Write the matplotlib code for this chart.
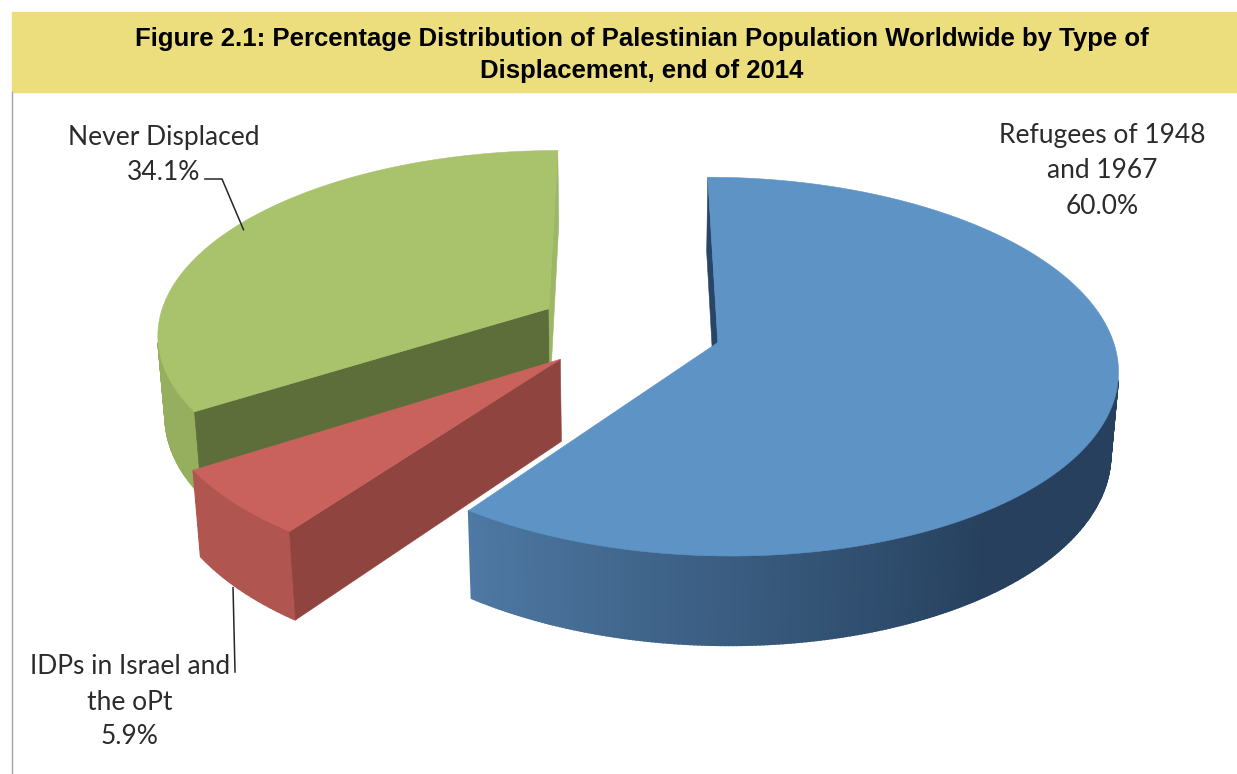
import numpy as np
import matplotlib

matplotlib.use("Agg")
import matplotlib.pyplot as plt
from matplotlib.colors import to_rgb
from matplotlib.patches import Polygon, Rectangle

# slices in drawing order around the pie, clockwise from 12 o'clock
labels = ["Refugees of 1948\nand 1967", "IDPs in Israel and\nthe oPt", "Never Displaced"]
shares = [60.0, 5.9, 34.1]

top_colors = ["#5e93c6", "#c9625d", "#a9c26c"]
side_light = ["#4e79a4", "#b0554f", "#95af5f"]
side_dark = ["#26405d", "#9a4a45", "#7f9850"]
start_face = ["#274566", "#8f4440", "#5e6e3a"]
end_face = ["#3d6a96", "#a04c47", "#9cb766"]

# camera / pie geometry (radius = 1)
ELEV = np.radians(27.8)
DIST = 7.0
FOCAL = 2745
CX, CY = 629, 329
EXPLODE = 0.236
THICK = 0.237


def project(X, Y, Z):
    s, c = np.sin(ELEV), np.cos(ELEV)
    depth = DIST + Y * c - Z * s
    return CX + FOCAL * X / depth, CY - FOCAL * (Y * s + Z * c) / depth


CAM = np.array([0.0, -DIST * np.cos(ELEV), DIST * np.sin(ELEV)])


def facing(normal, point):
    return np.dot(normal, CAM - np.asarray(point)) > 0


def mix(c1, c2, t):
    a, b = np.array(to_rgb(c1)), np.array(to_rgb(c2))
    return tuple(b + (a - b) * t)


def slice_center(a1, a2):
    mid = np.radians((a1 + a2) / 2)
    return EXPLODE * np.sin(mid), EXPLODE * np.cos(mid)


fig = plt.figure(figsize=(12.37, 7.74), dpi=100)
ax = fig.add_axes([0, 0, 1, 1])
ax.set_xlim(0, 1237)
ax.set_ylim(774, 0)
ax.axis("off")

# title banner
ax.add_patch(Rectangle((12, 12), 1225, 80, color="#ecde7c", zorder=1))
ax.text(
    642, 55,
    "Figure 2.1: Percentage Distribution of Palestinian Population Worldwide by Type of\n"
    "Displacement, end of 2014",
    ha="center", va="center", fontsize=18.5, fontweight="bold",
    family="Liberation Sans", linespacing=1.38, color="black", zorder=2,
)
ax.plot([11.5, 11.5], [92, 774], color="#a6a6a6", lw=1, zorder=1)

bounds = np.concatenate([[0], np.cumsum(shares)]) * 3.6
slices = []
for i in range(len(shares)):
    a1, a2 = bounds[i], bounds[i + 1]
    ox, oy = slice_center(a1, a2)
    slices.append((i, a1, a2, ox, oy))

# far slices first
slices.sort(key=lambda s: -s[4])
z = 3
for i, a1, a2, ox, oy in slices:
    # curved outer side
    steps = np.arange(a1, a2, 0.5)
    steps = np.append(steps, a2)
    for t0, t1 in zip(steps[:-1], steps[1:]):
        tm = np.radians((t0 + t1) / 2)
        normal = np.array([np.sin(tm), np.cos(tm), 0])
        p_mid = (ox + np.sin(tm), oy + np.cos(tm), -THICK / 2)
        if not facing(normal, p_mid):
            continue
        r0, r1 = np.radians(t0), np.radians(t1)
        pts = [
            project(ox + np.sin(r0), oy + np.cos(r0), 0),
            project(ox + np.sin(r1), oy + np.cos(r1), 0),
            project(ox + np.sin(r1), oy + np.cos(r1), -THICK),
            project(ox + np.sin(r0), oy + np.cos(r0), -THICK),
        ]
        shade = np.clip(((t0 + t1) / 2 - 144) / 72, 0, 1)
        col = mix(side_light[i], side_dark[i], shade)
        ax.add_patch(Polygon(pts, closed=True, fc=col, ec=col, lw=1.2, zorder=z))
    z += 1

    # flat radial faces
    for ang, normal_ang, col in ((a1, a1 - 90, start_face[i]), (a2, a2 + 90, end_face[i])):
        r = np.radians(ang)
        rn = np.radians(normal_ang)
        normal = np.array([np.sin(rn), np.cos(rn), 0])
        if not facing(normal, (ox, oy, 0)):
            continue
        pts = [
            project(ox, oy, 0),
            project(ox + np.sin(r), oy + np.cos(r), 0),
            project(ox + np.sin(r), oy + np.cos(r), -THICK),
            project(ox, oy, -THICK),
        ]
        ax.add_patch(Polygon(pts, closed=True, fc=col, ec=col, lw=0.4, zorder=z))
    z += 1

    # top face
    arc = np.radians(np.linspace(a1, a2, 400))
    pts = [project(ox, oy, 0)] + [project(ox + np.sin(a), oy + np.cos(a), 0) for a in arc]
    ax.add_patch(Polygon(pts, closed=True, fc=top_colors[i], ec=top_colors[i], lw=0.4, zorder=z))
    z += 1

geo = {s[0]: s for s in slices}
label_font = dict(family="Lato", fontsize=19, color="#2b2b2b", ha="center",
                  va="center", linespacing=1.5, zorder=20)

# Refugees, no leader
ax.text(1102, 171, f"{labels[0]}\n{shares[0]:.1f}%", **label_font)

# Never Displaced, leader to the top face
_, a1, a2, ox, oy = geo[2]
ang = np.radians(299.0)
gx, gy = project(ox + 0.97 * np.sin(ang), oy + 0.97 * np.cos(ang), 0)
ax.text(164, 155, f"{labels[2]}\n{shares[2]:.1f}%", **label_font)
ax.plot([205, 222, gx], [179, 179, gy], color="#262626", lw=1.1, zorder=21)

# IDPs, leader from the bottom rim
_, a1, a2, ox, oy = geo[1]
ang = np.radians(228.5)
rx, ry = project(ox + np.sin(ang), oy + np.cos(ang), -THICK)
ax.text(130, 702, f"{labels[1]}\n{shares[1]:.1f}%", **label_font)
ax.plot([rx, rx + 2], [ry + 3, 672], color="#262626", lw=1.1, zorder=21)

fig.savefig("out.png", dpi=100)
